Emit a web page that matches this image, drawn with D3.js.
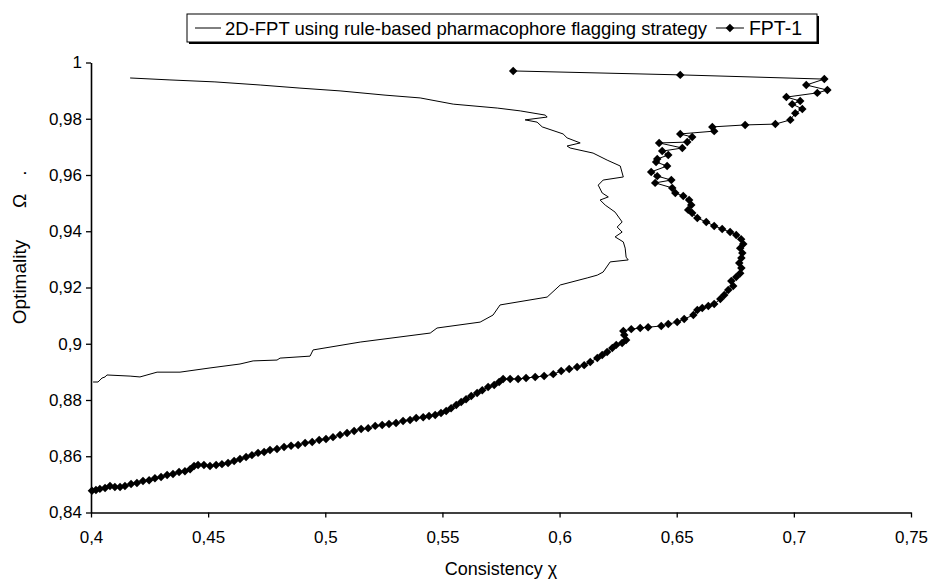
<!DOCTYPE html>
<html>
<head>
<meta charset="utf-8">
<script src="https://cdn.jsdelivr.net/npm/d3@7"></script>
<style>
  body { margin: 0; background: #fff; }
  text { font-family: "Liberation Sans", Arial, sans-serif; fill: #000; }
</style>
</head>
<body>
<svg id="chart" width="928" height="583"></svg>
<script>
// Axis ticks and their labels (decimal comma)
const xTicks = [0.4, 0.45, 0.5, 0.55, 0.6, 0.65, 0.7, 0.75];
const xTickLabels = ["0,4", "0,45", "0,5", "0,55", "0,6", "0,65", "0,7", "0,75"];
const yTicks = [0.84, 0.86, 0.88, 0.9, 0.92, 0.94, 0.96, 0.98, 1];
const yTickLabels = ["0,84", "0,86", "0,88", "0,9", "0,92", "0,94", "0,96", "0,98", "1"];

const seriesNames = ["2D-FPT using rule-based pharmacophore flagging strategy", "FPT-1"];

// 2D-FPT with rule-based pharmacophore flagging: consistency (x) / optimality (y)
const ruleX = [0.4167,0.4337,0.4529,0.4722,0.4892,0.5063,0.5255,0.5405,0.5546,0.5734,
  0.5832,0.5939,0.5947,0.5853,0.5904,0.5926,0.6015,0.6032,0.6088,0.6032,
  0.6045,0.6143,0.6203,0.6259,0.6272,0.6186,0.6165,0.6182,0.6208,0.6173,
  0.6195,0.6237,0.6267,0.6246,0.6267,0.6237,0.6272,0.6280,0.6284,0.6293,
  0.6216,0.6186,0.6161,0.6118,0.6003,0.5947,0.5746,0.5716,0.5661,0.5477,
  0.5448,0.5149,0.4948,0.4935,0.4807,0.4794,0.4692,0.4636,0.4508,0.4380,
  0.4282,0.4239,0.4209,0.4167,0.4068,0.4060,0.4047,0.4030,0.4009];
const ruleY = [0.9945,0.9938,0.9931,0.9920,0.9909,0.9899,0.9884,0.9874,0.9852,0.9838,
  0.9828,0.9813,0.9806,0.9796,0.9788,0.9771,0.9746,0.9732,0.9714,0.9703,
  0.9696,0.9678,0.9653,0.9632,0.9593,0.9582,0.9564,0.9536,0.9522,0.9511,
  0.9493,0.9468,0.9433,0.9415,0.9397,0.9380,0.9362,0.9340,0.9308,0.9298,
  0.9291,0.9255,0.9244,0.9234,0.9209,0.9166,0.9138,0.9102,0.9077,0.9056,
  0.9038,0.9006,0.8978,0.8956,0.8949,0.8942,0.8939,0.8928,0.8914,0.8899,
  0.8899,0.8889,0.8882,0.8885,0.8889,0.8882,0.8878,0.8864,0.8864];

// FPT-1: consistency (x) / optimality (y)
const fptX = [0.5802,0.6515,0.7130,0.7053,0.7143,0.7100,0.6968,0.7027,0.6993,0.7036,
  0.7006,0.6985,0.6921,0.6792,0.6652,0.6660,0.6515,0.6566,0.6545,0.6425,
  0.6524,0.6438,0.6464,0.6417,0.6412,0.6459,0.6391,0.6417,0.6477,0.6408,
  0.6481,0.6494,0.6528,0.6553,0.6562,0.6549,0.6566,0.6588,0.6626,0.6660,
  0.6694,0.6728,0.6754,0.6775,0.6784,0.6771,0.6780,0.6776,0.6767,0.6776,
  0.6771,0.6754,0.6733,0.6741,0.6720,0.6703,0.6686,0.6660,0.6635,0.6609,
  0.6588,0.6571,0.6532,0.6502,0.6464,0.6434,0.6378,0.6344,0.6306,0.6272,
  0.6276,0.6284,0.6267,0.6242,0.6225,0.6203,0.6182,0.6161,0.6131,0.6105,
  0.6075,0.6041,0.6007,0.5973,0.5934,0.5896,0.5857,0.5823,0.5789,0.5759,
  0.5742,0.5721,0.5695,0.5670,0.5648,0.5623,0.5601,0.5580,0.5559,0.5537,
  0.5516,0.5494,0.5469,0.5443,0.5418,0.5388,0.5362,0.5332,0.5302,0.5272,
  0.5243,0.5213,0.5183,0.5153,0.5123,0.5093,0.5063,0.5033,0.5003,0.4974,
  0.4944,0.4914,0.4884,0.4854,0.4824,0.4794,0.4764,0.4739,0.4713,0.4687,
  0.4662,0.4636,0.4611,0.4585,0.4559,0.4534,0.4508,0.4482,0.4457,0.4440,
  0.4423,0.4401,0.4376,0.4350,0.4325,0.4299,0.4273,0.4248,0.4222,0.4196,
  0.4171,0.4145,0.4124,0.4102,0.4081,0.4060,0.4038,0.4021,0.4004];
const fptY = [0.9970,0.9956,0.9941,0.9920,0.9902,0.9892,0.9877,0.9863,0.9852,0.9835,
  0.9820,0.9796,0.9781,0.9778,0.9771,0.9756,0.9746,0.9735,0.9717,0.9714,
  0.9696,0.9685,0.9671,0.9657,0.9646,0.9632,0.9611,0.9596,0.9582,0.9572,
  0.9554,0.9536,0.9525,0.9511,0.9493,0.9476,0.9465,0.9447,0.9433,0.9419,
  0.9408,0.9397,0.9387,0.9372,0.9355,0.9340,0.9323,0.9305,0.9287,0.9269,
  0.9251,0.9237,0.9223,0.9205,0.9191,0.9173,0.9159,0.9141,0.9134,0.9127,
  0.9120,0.9102,0.9088,0.9077,0.9070,0.9063,0.9059,0.9056,0.9052,0.9045,
  0.9031,0.9013,0.9003,0.8996,0.8985,0.8971,0.8960,0.8949,0.8935,0.8924,
  0.8917,0.8910,0.8903,0.8892,0.8885,0.8882,0.8878,0.8875,0.8875,0.8875,
  0.8864,0.8853,0.8846,0.8835,0.8825,0.8814,0.8803,0.8793,0.8782,0.8771,
  0.8761,0.8754,0.8747,0.8743,0.8739,0.8736,0.8729,0.8725,0.8718,0.8715,
  0.8711,0.8708,0.8700,0.8697,0.8690,0.8683,0.8676,0.8668,0.8661,0.8658,
  0.8651,0.8647,0.8640,0.8637,0.8633,0.8626,0.8622,0.8615,0.8612,0.8604,
  0.8597,0.8590,0.8583,0.8576,0.8572,0.8569,0.8565,0.8569,0.8569,0.8565,
  0.8554,0.8547,0.8544,0.8537,0.8533,0.8526,0.8522,0.8515,0.8512,0.8505,
  0.8501,0.8494,0.8491,0.8491,0.8494,0.8487,0.8484,0.8480,0.8477];

const svg = d3.select("#chart");
const plot = { left: 91, right: 911, top: 62.5, bottom: 512.5 };

const x = d3.scaleLinear().domain([0.4, 0.75]).range([plot.left, plot.right]);
const y = d3.scaleLinear().domain([0.84, 1]).range([plot.bottom, plot.top]);

const tickFont = 17;
const titleFont = 18;
const legendFont = 18.5;

// Axes
const xAxis = d3.axisBottom(x)
  .tickValues(xTicks)
  .tickFormat((d, i) => xTickLabels[i])
  .tickSizeInner(5).tickSizeOuter(0).tickPadding(13);
const yAxis = d3.axisLeft(y)
  .tickValues(yTicks)
  .tickFormat((d, i) => yTickLabels[i])
  .tickSizeInner(5).tickSizeOuter(0).tickPadding(4);

const gx = svg.append("g").attr("transform", `translate(0,${plot.bottom})`).call(xAxis);
const gy = svg.append("g").attr("transform", `translate(${plot.left},0)`).call(yAxis);
[gx, gy].forEach(g => {
  g.select(".domain").attr("stroke", "#000").attr("stroke-width", 1.6);
  g.selectAll(".tick line").attr("stroke", "#000").attr("stroke-width", 1.3);
  g.selectAll(".tick text")
    .attr("font-family", "Liberation Sans, Arial, sans-serif")
    .attr("font-size", tickFont).attr("fill", "#000");
});

// Axis titles
svg.append("text")
  .attr("x", (plot.left + plot.right) / 2).attr("y", 575)
  .attr("text-anchor", "middle").attr("font-size", titleFont)
  .text("Consistency \u03c7");

const yTitle = [["Optimality", 282], ["\u03a9", 201], [".", 173]];
yTitle.forEach(([t, cy]) => {
  svg.append("text")
    .attr("transform", `translate(26,${cy}) rotate(-90)`)
    .attr("text-anchor", "middle").attr("font-size", titleFont + 1)
    .text(t);
});

// Series
const ruleData = d3.zip(ruleX, ruleY);
const fptData = d3.zip(fptX, fptY);
const line = d3.line().x(d => x(d[0])).y(d => y(d[1]));

svg.append("path").datum(ruleData)
  .attr("d", line).attr("fill", "none")
  .attr("stroke", "#000").attr("stroke-width", 1);

svg.append("path").datum(fptData)
  .attr("d", line).attr("fill", "none")
  .attr("stroke", "#000").attr("stroke-width", 1);

const diamond = d3.symbol().type(d3.symbolSquare).size(36);
svg.append("g").selectAll("path")
  .data(fptData).join("path")
  .attr("d", diamond)
  .attr("transform", d => `translate(${x(d[0])},${y(d[1])}) rotate(45)`)
  .attr("fill", "#000");

// Legend
const lg = svg.append("g");
const lx = 187, ly = 14, lw = 630, lh = 28;
lg.append("rect").attr("x", lx + 2).attr("y", ly + 2).attr("width", lw).attr("height", lh).attr("fill", "#000");
lg.append("rect").attr("x", lx).attr("y", ly).attr("width", lw).attr("height", lh)
  .attr("fill", "#fff").attr("stroke", "#000").attr("stroke-width", 1);
const cy = ly + lh / 2;
lg.append("line").attr("x1", lx + 8).attr("x2", lx + 34).attr("y1", cy).attr("y2", cy)
  .attr("stroke", "#000").attr("stroke-width", 1);
const t1 = lg.append("text").attr("x", lx + 38).attr("y", cy + 6.5)
  .attr("font-size", legendFont).text(seriesNames[0]);
const t1w = t1.node().getComputedTextLength();
const sx = lx + 38 + t1w + 9;
lg.append("line").attr("x1", sx).attr("x2", sx + 28).attr("y1", cy).attr("y2", cy)
  .attr("stroke", "#000").attr("stroke-width", 1);
lg.append("path").attr("d", diamond).attr("transform", `translate(${sx + 14},${cy}) rotate(45)`).attr("fill", "#000");
lg.append("text").attr("x", sx + 33).attr("y", cy + 6.5)
  .attr("font-size", legendFont + 1).text(seriesNames[1]);
</script>
</body>
</html>
